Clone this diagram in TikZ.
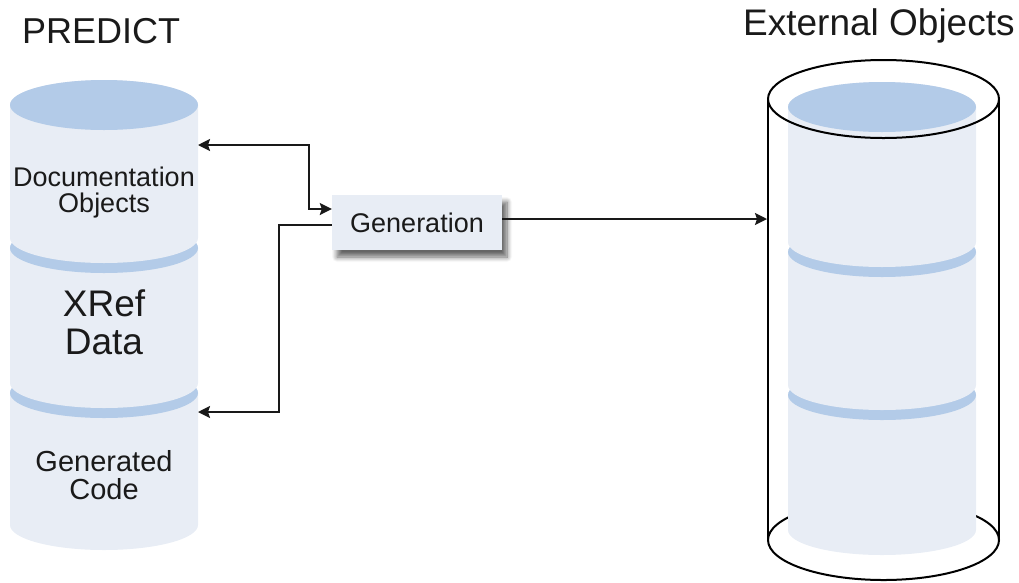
\documentclass[tikz,border=0pt]{standalone}
\usepackage{fontspec}
\setmainfont{Liberation Sans}
\usetikzlibrary{arrows.meta,shadows.blur,calc}
\definecolor{segbody}{HTML}{E8EDF5}
\definecolor{segtop}{HTML}{B3CBE8}
\definecolor{txt}{HTML}{1A1A1A}
\newcommand\dbsegment[4]{%
  \fill[segbody] (#1-#4,#2) -- (#1-#4,#3)
    arc[start angle=180,end angle=0,x radius=#4,y radius=25]
    -- (#1+#4,#2)
    arc[start angle=0,end angle=-180,x radius=#4,y radius=25] -- cycle;
  \fill[segtop] (#1,#2) ellipse[x radius=#4,y radius=25];
}
\tikzset{
  conn/.style={draw=black!90,line width=2pt},
  outline/.style={draw=black,line width=2pt},
  cyltext/.style={text=txt,align=center,inner sep=0pt},
  genbox/.style={fill=segbody,minimum width=170pt,minimum height=55pt,inner sep=0pt,
    text=txt,font=\fontsize{27}{27}\selectfont,
    blur shadow={shadow xshift=5pt,shadow yshift=-7pt,shadow blur steps=8,shadow blur radius=5pt,shadow opacity=60}},
  heading/.style={text=txt,inner sep=0pt,anchor=base west}
}
\begin{document}
\begin{tikzpicture}[x=1pt,y=-1pt,>={Stealth[length=12pt,width=12pt,inset=2pt]}]
\useasboundingbox (0,0) rectangle (1019,582);
% headings
\node[heading,font=\fontsize{36}{36}\selectfont] (predict) at (22,43) {PREDICT};
\node[heading,font=\fontsize{37}{37}\selectfont] (external) at (743,35) {External Objects};
% left database (PREDICT)
\dbsegment{104}{393}{525}{94}
\dbsegment{104}{248}{383}{94}
\dbsegment{104}{105}{238}{94}
\node[cyltext,font=\fontsize{27}{26}\selectfont] (doc) at (104,193) {Documentation\\Objects};
\node[cyltext,font=\fontsize{37}{38}\selectfont] (xref) at (104,322.5) {XRef\\Data};
\node[cyltext,font=\fontsize{29}{28}\selectfont] (code) at (104,475.5) {Generated\\Code};
% right database (External Objects)
\draw[outline] (883.5,540) ellipse[x radius=115.5,y radius=40];
\draw[outline] (768,99) -- (768,540);
\draw[outline] (999,99) -- (999,540);
\dbsegment{882}{395}{530}{94}
\dbsegment{882}{252}{385}{94}
\dbsegment{882}{107}{242}{94}
\draw[outline] (883.5,99) ellipse[x radius=115.5,y radius=39];
% connection points
\coordinate (docR) at (198,145);
\coordinate (codeR) at (198,412);
\coordinate (extL) at (767,219);
% generation box
\node[genbox] (gen) at (417,222.5) {Generation};
% connectors
\draw[conn,<->] (docR) -| ($(gen.west)+(-23,-13.5)$) |- ($(gen.west)+(0,-13.5)$);
\draw[conn,->] ($(gen.west)+(0,2.5)$) -| ($(codeR)+(81,0)$) -- (codeR);
\draw[conn,->] (gen.east |- extL) -- (extL);
\end{tikzpicture}
\end{document}
